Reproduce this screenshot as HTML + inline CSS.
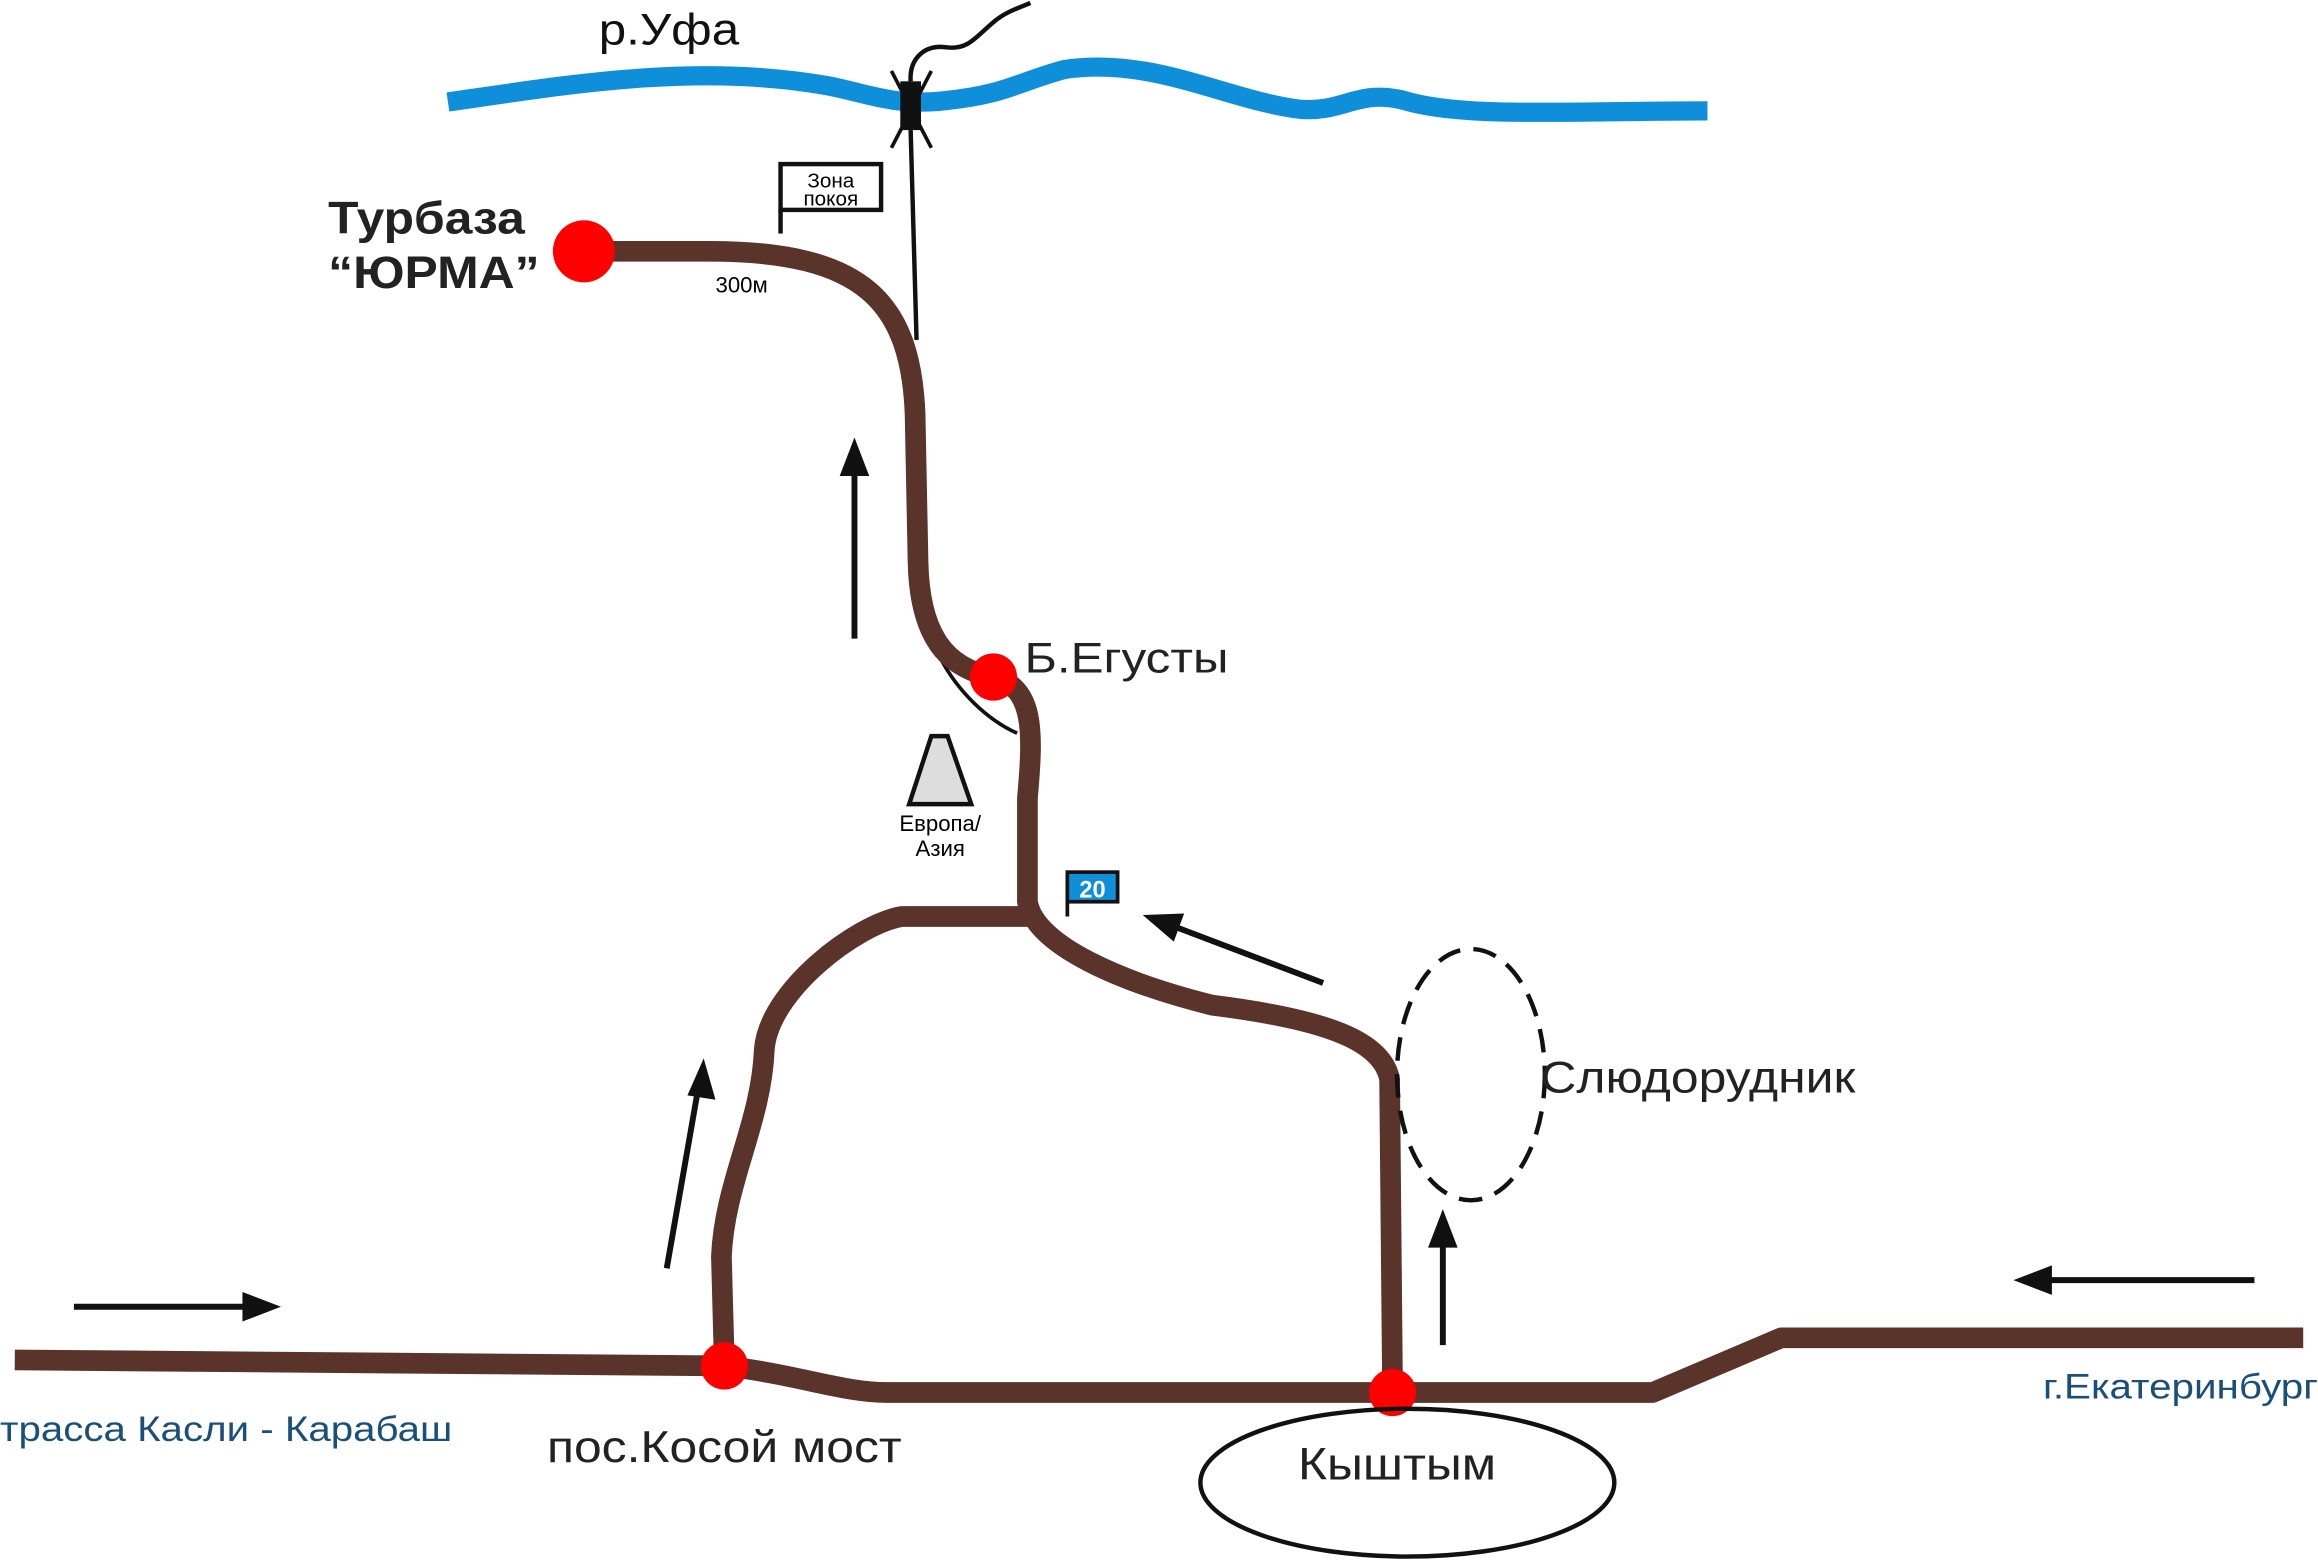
<!DOCTYPE html>
<html><head><meta charset="utf-8"><style>
html,body{margin:0;padding:0;background:#fff;width:2318px;height:1561px;overflow:hidden}
svg{display:block}
text{font-family:"Liberation Sans",sans-serif}
</style></head><body>
<svg width="2318" height="1561" viewBox="0 0 1568 1056" preserveAspectRatio="none" xmlns="http://www.w3.org/2000/svg">
<!-- river -->
<path d="M303,69 C380,58 470,42 560,58 C590,64 605,72 640,68 C680,64 690,55 720,47 C780,38 830,68 880,74 C910,76 918,60 950,68 C990,80 1060,75 1155,75" fill="none" stroke="#0f8fda" stroke-width="13"/>
<text x="405" y="30" font-size="30" fill="#111" textLength="95" lengthAdjust="spacingAndGlyphs">р.Уфа</text>
<!-- thin road -->
<path d="M620,230 L616,88 M616,55 C615,40 625,30 640,32 C655,34 660,25 672,15 C680,8 690,5 697,2" fill="none" stroke="#111" stroke-width="3"/>
<rect x="609" y="55" width="14" height="33" fill="#111"/>
<path d="M603,48 L630,100 M630,48 L603,100" stroke="#111" stroke-width="2.5"/>
<!-- zona pokoya -->
<rect x="528" y="111" width="68" height="31" fill="#fff" stroke="#111" stroke-width="3"/>
<line x1="528" y1="142" x2="528" y2="158" stroke="#111" stroke-width="3"/>
<text x="562" y="127" font-size="14" text-anchor="middle">Зона</text>
<text x="562" y="139" font-size="14" text-anchor="middle">покоя</text>
<!-- egusty thin -->
<path d="M636,445 C648,468 668,487 688,496" fill="none" stroke="#111" stroke-width="2.5"/>
<!-- roads -->
<g fill="none" stroke="#5a332a" stroke-width="14" stroke-linejoin="round">
<path d="M395,170 L480,170 C585,170 616,205 619,280 L621,380 C622,430 640,452 672,458 C700,465 699,495 695,540 L695,610 C700,640 760,665 820,680 C900,690 935,705 940,730 L942,942"/>
<path d="M695,620 L610,620 C580,625 520,670 517,710 C515,760 490,800 488,850 L490,924"/>
<path d="M10,920 L490,924 C540,930 570,942 600,942 L1118,942 L1205,905 L1558,905"/>
</g>
<!-- dots -->
<circle cx="395" cy="170" r="21" fill="#f00"/>
<circle cx="672" cy="458" r="16" fill="#f00"/>
<circle cx="490" cy="924" r="16" fill="#f00"/>
<circle cx="942" cy="942" r="16" fill="#f00"/>
<!-- arrows -->
<g stroke="#111" stroke-width="4" fill="#111">
<line x1="578" y1="432" x2="578" y2="318"/><polygon points="578,296 568,322 588,322" stroke="none"/>
<line x1="895" y1="665" x2="795" y2="627"/><polygon points="773,619 794,637 801,618" stroke="none"/>
<line x1="451" y1="858" x2="472" y2="738"/><polygon points="476,716 465,741 484,744" stroke="none"/>
<line x1="50" y1="884" x2="168" y2="884"/><polygon points="190,884 164,874 164,894" stroke="none"/>
<line x1="1525" y1="866" x2="1384" y2="866"/><polygon points="1362,866 1388,856 1388,876" stroke="none"/>
<line x1="976" y1="910" x2="976" y2="840"/><polygon points="976,818 966,844 986,844" stroke="none"/>
</g>
<!-- europe/asia -->
<polygon points="630,498 641,498 657,544 615,544" fill="#ddd" stroke="#111" stroke-width="3"/>
<text x="636" y="562" font-size="15" text-anchor="middle">Европа/</text>
<text x="636" y="579" font-size="15" text-anchor="middle">Азия</text>
<!-- sign 20 -->
<rect x="722" y="590" width="34" height="20" fill="#0f8fda" stroke="#111" stroke-width="2.5"/>
<line x1="722" y1="610" x2="722" y2="620" stroke="#111" stroke-width="2.5"/>
<text x="739" y="607" font-size="16" font-weight="bold" fill="#fff" text-anchor="middle">20</text>
<!-- ellipses -->
<ellipse cx="995" cy="727" rx="50" ry="85" fill="none" stroke="#111" stroke-width="3" stroke-dasharray="16,9"/>
<ellipse cx="952" cy="1003" rx="140" ry="50" fill="none" stroke="#111" stroke-width="3"/>
<!-- labels -->
<text x="222" y="158" font-size="31" font-weight="bold" fill="#222" textLength="133" lengthAdjust="spacingAndGlyphs">Турбаза</text>
<text x="222" y="195" font-size="31" font-weight="bold" fill="#222" textLength="143" lengthAdjust="spacingAndGlyphs">“ЮРМА”</text>
<text x="484" y="198" font-size="15">300м</text>
<text x="693" y="455" font-size="29" fill="#222" textLength="138" lengthAdjust="spacingAndGlyphs">Б.Егусты</text>
<text x="1042" y="739" font-size="30" fill="#222" textLength="213" lengthAdjust="spacingAndGlyphs">Слюдорудник</text>
<text x="370" y="989" font-size="30" fill="#222" textLength="240" lengthAdjust="spacingAndGlyphs">пос.Косой мост</text>
<text x="878" y="1001" font-size="31" fill="#222" textLength="134" lengthAdjust="spacingAndGlyphs">Кыштым</text>
<text x="0" y="975" font-size="24" fill="#1a4f7a" textLength="306" lengthAdjust="spacingAndGlyphs">трасса Касли - Карабаш</text>
<text x="1382" y="946" font-size="24" fill="#1a4f7a" textLength="186" lengthAdjust="spacingAndGlyphs">г.Екатеринбург</text>
</svg>
</body></html>
